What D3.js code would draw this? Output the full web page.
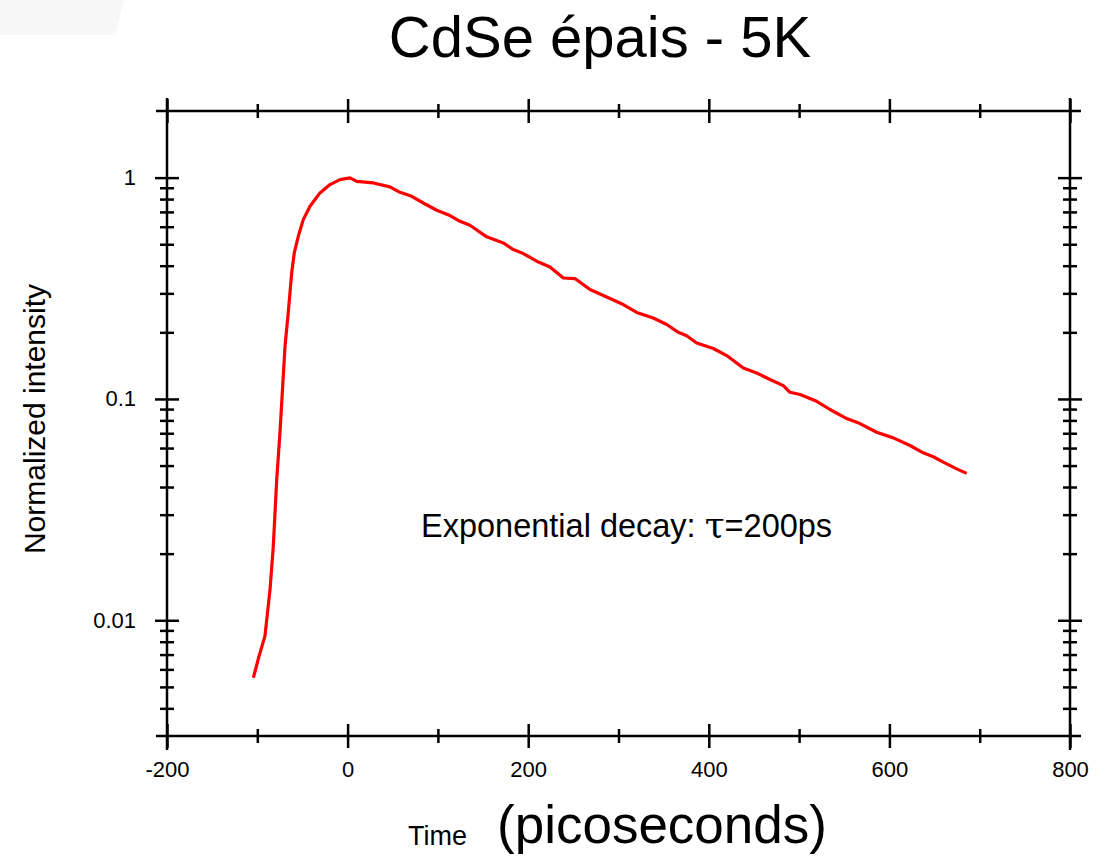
<!DOCTYPE html>
<html>
<head>
<meta charset="utf-8">
<script src="https://cdn.jsdelivr.net/npm/d3@7"></script>
<style>
body { margin: 0; background: #fff; }
text { font-family: "Liberation Sans", Arial, sans-serif; fill: #000; }
</style>
</head>
<body>
<svg id="chart" width="1107" height="856"></svg>
<script>
// Decay trace (time in ps, normalized intensity)
var times = [-104.4, -101.4, -98.9, -91.5, -85.9, -82.3, -78.5, -74.9, -71.9, -69.3,
    -65.7, -61.9, -59.0, -54.6, -49.1, -41.6, -30.6, -19.5, -8.4, 2.7,
    10.1, 28.5, 46.9, 58.0, 71.0, 83.8, 98.7, 113.4, 124.5, 135.5,
    154.0, 172.4, 183.5, 194.6, 209.4, 224.1, 238.9, 251.8, 268.4, 286.9,
    305.3, 320.1, 338.5, 353.4, 366.2, 375.5, 386.6, 405.0, 419.8, 438.2,
    453.0, 467.8, 482.5, 489.9, 501.0, 519.5, 534.2, 552.7, 567.4, 585.9,
    604.3, 622.8, 637.5, 648.6, 659.7, 674.5, 685.6];
var intensity = [0.0055, 0.0061, 0.0067, 0.0085, 0.0138, 0.0216, 0.0432, 0.0705, 0.114, 0.173,
    0.246, 0.372, 0.458, 0.543, 0.646, 0.742, 0.853, 0.930, 0.979, 0.997,
    0.962, 0.946, 0.908, 0.858, 0.823, 0.768, 0.712, 0.674, 0.635, 0.609,
    0.540, 0.507, 0.473, 0.454, 0.419, 0.395, 0.352, 0.350, 0.312, 0.289,
    0.267, 0.246, 0.232, 0.217, 0.200, 0.193, 0.179, 0.169, 0.157, 0.138,
    0.131, 0.1224, 0.1149, 0.1072, 0.1047, 0.0976, 0.0896, 0.0815, 0.0774, 0.0707,
    0.0667, 0.0616, 0.0571, 0.0548, 0.0518, 0.0483, 0.0461];

// Tick values and labels
var xMajor = [-200, 0, 200, 400, 600, 800];
var xMinor = [-100, 100, 300, 500, 700];
var yMajor = [0.01, 0.1, 1];
var yLabels = ["0.01", "0.1", "1"];
var yMinor = [0.004, 0.005, 0.006, 0.007, 0.008, 0.009,
    0.02, 0.03, 0.04, 0.05, 0.06, 0.07, 0.08, 0.09,
    0.2, 0.3, 0.4, 0.5, 0.6, 0.7, 0.8, 0.9];

var svg = d3.select('#chart');

// layout
var plot = {l: 167, r: 1070, t: 111, b: 736};
var overshoot = 11;
var majorLen = 12, minorLen = 7;

var x = d3.scaleLinear().domain([-200, 800]).range([plot.l, plot.r]);
var y = d3.scaleLog().domain([0.003, 2]).range([plot.b, plot.t]);

// light grey slide shape in the corner
svg.append('polygon')
    .attr('points', '0,0 124,0 115,35 0,35')
    .attr('fill', '#f7f7f7');

// title
svg.append('text')
    .attr('x', 600).attr('y', 57)
    .attr('text-anchor', 'middle')
    .style('font-size', '58px')
    .text('CdSe épais - 5K');

// helper to style an axis group
function styleAxis(g) {
    g.select('.domain').remove();
    g.selectAll('.tick line').attr('stroke', '#000').attr('stroke-width', 2.5);
    g.selectAll('.tick text').style('font-size', '22px')
        .attr('font-family', '"Liberation Sans", Arial, sans-serif').attr('fill', '#000');
    g.attr('font-family', null);
}

// x ticks on bottom and top: two axes back-to-back make ticks cross the line
[plot.b, plot.t].forEach(function(yPos, i) {
    var down = svg.append('g').attr('transform', 'translate(0,' + yPos + ')')
        .call(d3.axisBottom(x).tickValues(xMajor).tickSize(majorLen).tickPadding(13)
            .tickFormat(function(d) { return i === 0 ? String(d) : ''; }));
    styleAxis(down);
    styleAxis(svg.append('g').attr('transform', 'translate(0,' + yPos + ')')
        .call(d3.axisTop(x).tickValues(xMajor).tickSize(majorLen).tickFormat('')));
    styleAxis(svg.append('g').attr('transform', 'translate(0,' + yPos + ')')
        .call(d3.axisBottom(x).tickValues(xMinor).tickSize(minorLen).tickFormat('')));
    styleAxis(svg.append('g').attr('transform', 'translate(0,' + yPos + ')')
        .call(d3.axisTop(x).tickValues(xMinor).tickSize(minorLen).tickFormat('')));
});

// y ticks on left and right
[plot.l, plot.r].forEach(function(xPos, i) {
    var left = svg.append('g').attr('transform', 'translate(' + xPos + ',0)')
        .call(d3.axisLeft(y).tickValues(yMajor).tickSize(majorLen).tickPadding(19)
            .tickFormat(function(d, j) { return i === 0 ? yLabels[j] : ''; }));
    styleAxis(left);
    styleAxis(svg.append('g').attr('transform', 'translate(' + xPos + ',0)')
        .call(d3.axisRight(y).tickValues(yMajor).tickSize(majorLen).tickFormat('')));
    styleAxis(svg.append('g').attr('transform', 'translate(' + xPos + ',0)')
        .call(d3.axisLeft(y).tickValues(yMinor).tickSize(minorLen).tickFormat('')));
    styleAxis(svg.append('g').attr('transform', 'translate(' + xPos + ',0)')
        .call(d3.axisRight(y).tickValues(yMinor).tickSize(minorLen).tickFormat('')));
});

// frame lines, each running a little past the corners
var frame = svg.append('g').attr('stroke', '#000').attr('stroke-width', 2.5);
[plot.t, plot.b].forEach(function(yPos) {
    frame.append('line')
        .attr('x1', plot.l - overshoot).attr('x2', plot.r + overshoot)
        .attr('y1', yPos).attr('y2', yPos);
});
[plot.l, plot.r].forEach(function(xPos) {
    frame.append('line')
        .attr('x1', xPos).attr('x2', xPos)
        .attr('y1', plot.t - overshoot - 2).attr('y2', plot.b + overshoot + 3);
});

// the decay curve
var line = d3.line()
    .x(function(d, i) { return x(times[i]); })
    .y(function(d, i) { return y(intensity[i]); });

svg.append('path')
    .datum(times)
    .attr('d', line)
    .attr('fill', 'none')
    .attr('stroke', '#ff0000')
    .attr('stroke-width', 3.2)
    .attr('stroke-linejoin', 'round');

// annotation
var note = svg.append('text')
    .attr('x', 421).attr('y', 537)
    .style('font-size', '32.5px');
note.append('tspan').text('Exponential decay: ');
note.append('tspan').style('font-family', '"DejaVu Serif", serif').style('font-size', '36px').text('τ');
note.append('tspan').text('=200ps');

// axis titles
svg.append('text')
    .attr('transform', 'translate(45,419)rotate(-90)')
    .attr('text-anchor', 'middle')
    .style('font-size', '30px')
    .text('Normalized intensity');

svg.append('text')
    .attr('x', 408).attr('y', 845)
    .style('font-size', '27px')
    .text('Time');
svg.append('text')
    .attr('x', 497).attr('y', 843)
    .style('font-size', '53px')
    .text('(picoseconds)');
</script>
</body>
</html>
